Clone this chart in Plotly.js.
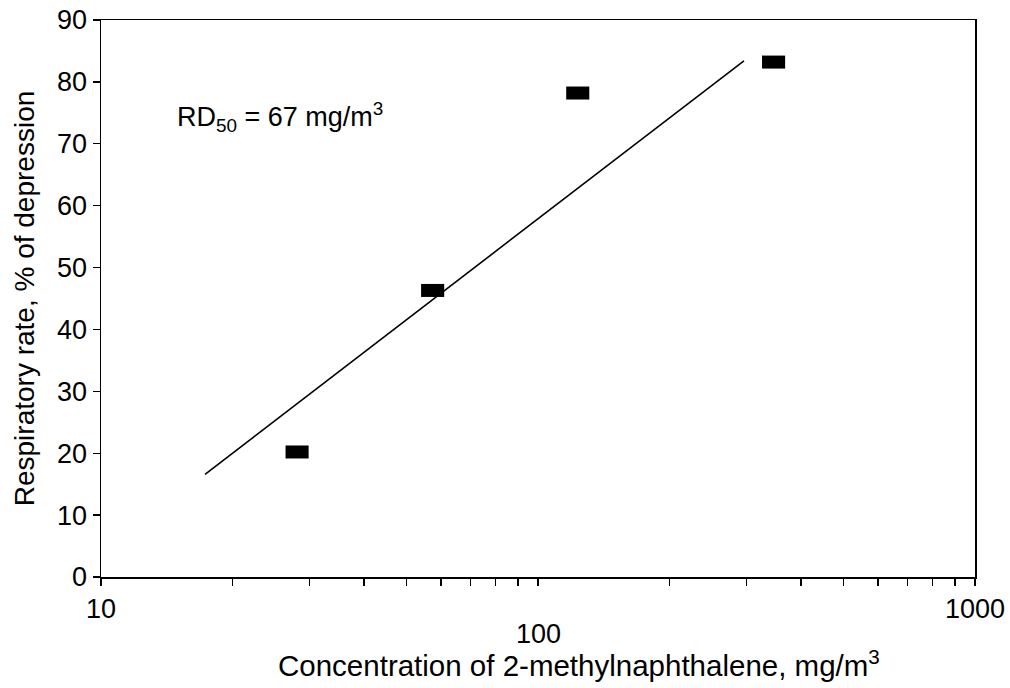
<!DOCTYPE html>
<html>
<head>
<meta charset="utf-8">
<script src="https://cdn.plot.ly/plotly-3.0.1.min.js"></script>
<style>html,body{margin:0;padding:0;background:#fff;}#chart{width:1010px;height:688px;}</style>
</head>
<body>
<div id="chart"></div>
<script>
// measured data points (concentration mg/m3, % depression)
var concentration = [28.1, 57.4, 123.3, 346];
var depression = [20.2, 46.3, 78.2, 83.2];
// fitted line end points
var fitX = [17.3, 296];
var fitY = [16.6, 83.4];
// axis ticks
var xTickVals = [10, 1000];
var xTickText = ["10", "1000"];
var xMinorTickVals = [20, 30, 40, 50, 60, 70, 80, 90, 100, 200, 300, 400, 500, 600, 700, 800, 900];
var yTickVals = [0, 10, 20, 30, 40, 50, 60, 70, 80, 90];

var FONT = "Liberation Sans, Arial, Helvetica, sans-serif";
var FS = 27;
var TFS = 28;

var traces = [
  {
    x: fitX, y: fitY, type: "scatter", mode: "lines",
    line: {color: "#000", width: 1.6}, hoverinfo: "skip", showlegend: false
  },
  {
    x: concentration, y: depression, type: "scatter", mode: "markers",
    marker: {symbol: "line-ew", size: 16.5, line: {color: "#000", width: 13}},
    showlegend: false
  }
];

var layout = {
  width: 1010, height: 688,
  margin: {l: 101, r: 35, t: 20, b: 111},
  paper_bgcolor: "#fff", plot_bgcolor: "#fff",
  font: {family: FONT, size: FS, color: "#000"},
  xaxis: {
    type: "log", range: [1, 3],
    tickmode: "array", tickvals: xTickVals, ticktext: xTickText,
    ticks: "outside", ticklen: 7, tickwidth: 1.3, tickcolor: "#000",
    minor: {tickmode: "array", tickvals: xMinorTickVals, ticks: "outside", ticklen: 7, tickwidth: 1.3, tickcolor: "#000", showgrid: false},
    showline: true, linecolor: "#000", linewidth: 1.5, mirror: true,
    showgrid: false, zeroline: false,
    tickfont: {family: FONT, size: FS, color: "#000"}
  },
  yaxis: {
    range: [0, 90], tickvals: yTickVals,
    ticks: "outside", ticklen: 7, tickwidth: 1.3, tickcolor: "#000",
    showline: true, linecolor: "#000", linewidth: 1.5, mirror: true,
    showgrid: false, zeroline: false,
    tickfont: {family: FONT, size: FS, color: "#000"},
    title: {text: "Respiratory rate, % of depression", font: {family: FONT, size: TFS, color: "#000"}, standoff: 14}
  },
  annotations: [
    {
      text: "100", xref: "x", yref: "paper", x: 2, y: -0.102,
      xanchor: "center", yanchor: "middle", showarrow: false,
      font: {family: FONT, size: FS, color: "#000"}
    },
    {
      text: "Concentration of 2-methylnaphthalene, mg/m<sup>3</sup>",
      xref: "paper", yref: "paper", x: 0.547, y: -0.156,
      xanchor: "center", yanchor: "middle", showarrow: false,
      font: {family: FONT, size: 29.5, color: "#000"}
    },
    {
      text: "RD<sub>50</sub> = 67 mg/m<sup>3</sup>",
      xref: "paper", yref: "paper", x: 0.085, y: 0.826,
      xanchor: "left", yanchor: "middle", showarrow: false,
      font: {family: FONT, size: FS, color: "#000"}
    }
  ]
};

Plotly.newPlot("chart", traces, layout, {staticPlot: true, displayModeBar: false});
</script>
</body>
</html>
